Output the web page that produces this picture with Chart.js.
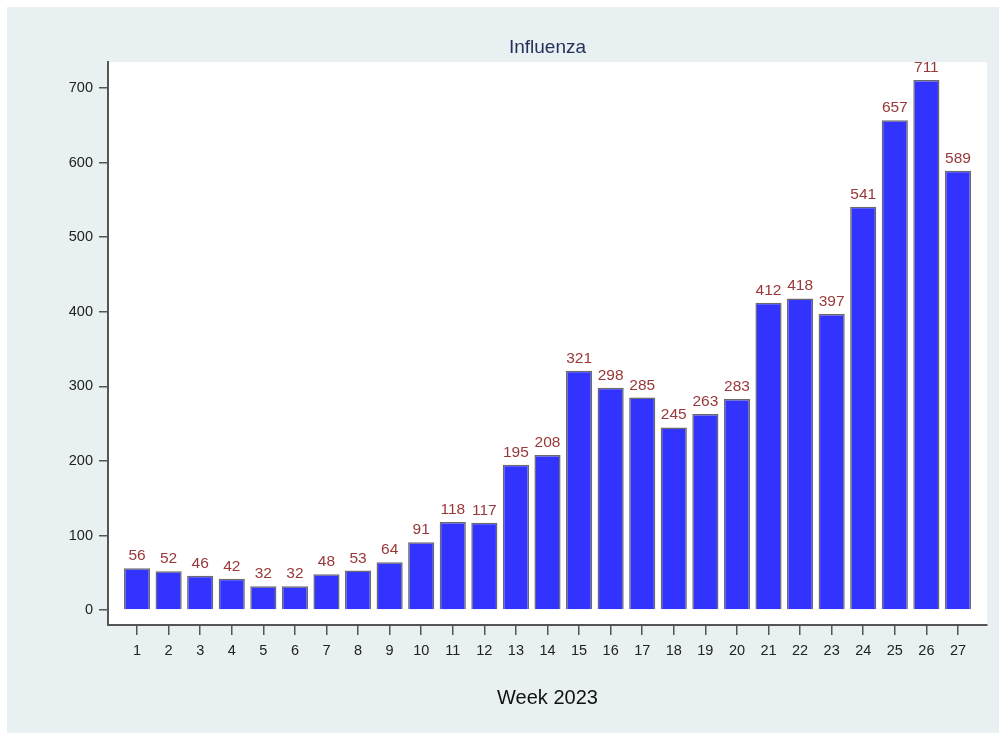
<!DOCTYPE html>
<html>
<head>
<meta charset="utf-8">
<script src="https://cdn.jsdelivr.net/npm/chart.js@4"></script>
<style>
  html, body { margin: 0; padding: 0; background: #fff; }
  #wrap { position: absolute; left: 0; top: 0; width: 1000px; height: 733px; }
</style>
</head>
<body>
<div id="wrap"><canvas id="fluChart" width="1000" height="733"></canvas></div>
<script>
// Data
const weeks = [1, 2, 3, 4, 5, 6, 7, 8, 9, 10, 11, 12, 13, 14, 15, 16, 17, 18, 19, 20, 21, 22, 23, 24, 25, 26, 27];
const cases = [56, 52, 46, 42, 32, 32, 48, 53, 64, 91, 118, 117, 195, 208, 321, 298, 285, 245, 263, 283, 412, 418, 397, 541, 657, 711, 589];
const yTicks = [0, 100, 200, 300, 400, 500, 600, 700];
const chartTitle = 'Influenza';
const xTitle = 'Week 2023';

const FONT = '"Liberation Sans", Arial, sans-serif';

// background: light panel + white plot area
const backgroundPlugin = {
  id: 'bg',
  beforeDraw(chart) {
    const c = chart.ctx;
    const a = chart.chartArea;
    c.save();
    c.fillStyle = '#ffffff';
    c.fillRect(0, 0, chart.width, chart.height);
    c.fillStyle = '#e8f0f2';
    c.fillRect(7, 7, chart.width - 8, chart.height - 7);
    c.fillStyle = '#ffffff';
    c.fillRect(a.left, a.top, a.right - a.left, a.bottom - a.top);
    c.restore();
  }
};

// title centred over the plot area, and value labels over the bars
const labelPlugin = {
  id: 'labels',
  afterDatasetsDraw(chart) {
    const c = chart.ctx;
    const a = chart.chartArea;
    c.save();
    c.font = '19px ' + FONT;
    c.fillStyle = '#24325a';
    c.textAlign = 'center';
    c.textBaseline = 'middle';
    c.fillText(chartTitle, (a.left + a.right) / 2, 48);

    c.font = '15.5px ' + FONT;
    c.fillStyle = '#993838';
    c.textBaseline = 'alphabetic';
    const meta = chart.getDatasetMeta(0);
    meta.data.forEach((bar, i) => {
      c.fillText(String(cases[i]), bar.x, bar.y - 8);
    });
    c.restore();
  }
};

const ctx = document.getElementById('fluChart').getContext('2d');
const chart = new Chart(ctx, {
  type: 'bar',
  data: {
    datasets: [{
      label: chartTitle,
      data: weeks.map((w, i) => ({ x: w, y: cases[i] })),
      backgroundColor: '#3333ff',
      borderColor: '#6a6a6a',
      borderWidth: 1.5,
      barPercentage: 0.92,
      categoryPercentage: 0.9
    }]
  },
  options: {
    responsive: false,
    animation: false,
    devicePixelRatio: 1,
    layout: { padding: { left: 0, right: 13, top: 62, bottom: 0 } },
    plugins: {
      legend: { display: false },
      title: { display: false },
      tooltip: { enabled: false }
    },
    scales: {
      x: {
        type: 'linear',
        offset: false,
        min: 0.08,
        max: 27.92,
        afterBuildTicks: scale => { scale.ticks = weeks.map(v => ({ value: v })); },
        afterFit: scale => { scale.height = 108; },
        ticks: {
          autoSkip: false,
          maxRotation: 0,
          padding: 7,
          color: '#222',
          font: { family: FONT, size: 14.5 }
        },
        grid: {
          offset: false,
          drawOnChartArea: false,
          drawTicks: true,
          tickLength: 10,
          color: '#555',
          lineWidth: 1.5
        },
        border: { display: true, color: '#555', width: 2 },
        title: {
          display: true,
          text: xTitle,
          color: '#111',
          font: { family: FONT, size: 20 },
          padding: { top: 4, bottom: 23 }
        }
      },
      y: {
        min: -20,
        max: 735,
        afterBuildTicks: scale => { scale.ticks = yTicks.map(v => ({ value: v })); },
        afterFit: scale => { scale.width = 108; },
        ticks: {
          padding: 6,
          color: '#222',
          font: { family: FONT, size: 14.5 }
        },
        grid: {
          drawOnChartArea: false,
          drawTicks: true,
          tickLength: 9,
          color: '#555',
          lineWidth: 1.5
        },
        border: { display: true, color: '#555', width: 2 }
      }
    }
  },
  plugins: [backgroundPlugin, labelPlugin]
});
</script>
</body>
</html>
